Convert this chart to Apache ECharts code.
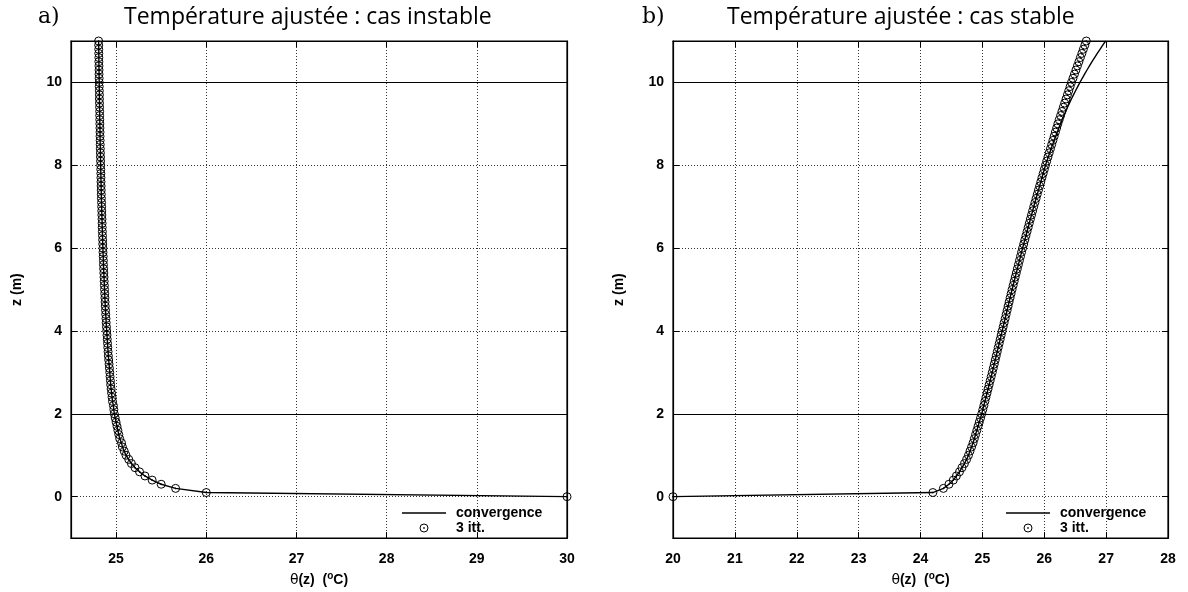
<!DOCTYPE html>
<html>
<head>
<meta charset="utf-8">
<script src="https://cdn.jsdelivr.net/npm/echarts@6/dist/echarts.min.js"></script>
<style>
html,body{margin:0;padding:0;background:#fff;}
#chart{width:1188px;height:592px;}
</style>
</head>
<body>
<div id="chart"></div>
<script>
// ---------- DATA ----------
const zLevels = [
  0,0.1,0.2,0.3,0.4,0.5,0.6,0.7,0.8,0.9,
  1,1.1,1.2,1.3,1.4,1.5,1.6,1.7,1.8,1.9,
  2,2.1,2.2,2.3,2.4,2.5,2.6,2.7,2.8,2.9,
  3,3.1,3.2,3.3,3.4,3.5,3.6,3.7,3.8,3.9,
  4,4.1,4.2,4.3,4.4,4.5,4.6,4.7,4.8,4.9,
  5,5.1,5.2,5.3,5.4,5.5,5.6,5.7,5.8,5.9,
  6,6.1,6.2,6.3,6.4,6.5,6.6,6.7,6.8,6.9,
  7,7.1,7.2,7.3,7.4,7.5,7.6,7.7,7.8,7.9,
  8,8.1,8.2,8.3,8.4,8.5,8.6,8.7,8.8,8.9,
  9,9.1,9.2,9.3,9.4,9.5,9.6,9.7,9.8,9.9,
  10,10.1,10.2,10.3,10.4,10.5,10.6,10.7,10.8,10.9,
  11
];

// a) unstable case (convergence and 3 iterations coincide)
const thetaUnstableConv = [
  30.00,26.00,25.66,25.50,25.40,25.32,25.26,25.21,25.17,25.14,
  25.11,25.09,25.07,25.06,25.04,25.03,25.02,25.01,25.00,24.99,
  24.98,24.975,24.97,24.96,24.955,24.95,24.945,24.94,24.937,24.933,
  24.93,24.926,24.922,24.918,24.914,24.911,24.908,24.905,24.902,24.899,
  24.896,24.893,24.890,24.888,24.885,24.883,24.880,24.878,24.876,24.874,
  24.872,24.870,24.868,24.866,24.864,24.862,24.860,24.859,24.857,24.855,
  24.854,24.852,24.851,24.849,24.848,24.846,24.845,24.844,24.842,24.841,
  24.840,24.839,24.837,24.836,24.835,24.834,24.833,24.832,24.831,24.830,
  24.829,24.828,24.827,24.826,24.825,24.824,24.823,24.822,24.822,24.821,
  24.820,24.819,24.818,24.818,24.817,24.816,24.815,24.815,24.814,24.813,
  24.813,24.812,24.811,24.811,24.810,24.809,24.809,24.808,24.808,24.807,
  24.806
];
const thetaUnstableItt3 = thetaUnstableConv;

// b) stable case
const thetaStableItt3 = [
  20.00,24.20,24.37,24.46,24.53,24.58,24.63,24.67,24.71,24.745,
  24.775,24.80,24.825,24.85,24.87,24.89,24.91,24.93,24.95,24.97,
  24.99,25.007,25.024,25.041,25.058,25.075,25.092,25.109,25.126,25.143,
  25.16,25.176,25.192,25.208,25.224,25.24,25.256,25.272,25.288,25.304,
  25.32,25.336,25.352,25.368,25.384,25.40,25.416,25.432,25.448,25.464,
  25.48,25.497,25.514,25.531,25.548,25.565,25.582,25.599,25.616,25.633,
  25.65,25.668,25.686,25.704,25.722,25.74,25.758,25.776,25.794,25.812,
  25.83,25.849,25.868,25.887,25.906,25.925,25.944,25.963,25.982,26.001,
  26.02,26.04,26.06,26.08,26.10,26.12,26.14,26.16,26.18,26.20,
  26.22,26.242,26.264,26.286,26.308,26.33,26.352,26.374,26.396,26.418,
  26.44,26.464,26.488,26.512,26.536,26.56,26.584,26.608,26.632,26.656,
  26.68
];
const thetaStableConv = [
  20.00,24.20,24.37,24.46,24.53,24.58,24.63,24.67,24.71,24.745,
  24.775,24.80,24.825,24.85,24.87,24.89,24.91,24.93,24.95,24.97,
  24.99,25.007,25.024,25.041,25.058,25.075,25.092,25.109,25.126,25.143,
  25.16,25.176,25.192,25.208,25.224,25.24,25.256,25.272,25.288,25.304,
  25.32,25.336,25.352,25.368,25.384,25.40,25.416,25.432,25.448,25.464,
  25.48,25.497,25.514,25.531,25.548,25.565,25.582,25.599,25.616,25.633,
  25.65,25.668,25.686,25.704,25.722,25.74,25.758,25.776,25.794,25.812,
  25.83,25.849,25.868,25.887,25.906,25.925,25.944,25.963,25.982,26.001,
  26.02,26.042,26.065,26.088,26.112,26.136,26.16,26.185,26.21,26.236,
  26.262,26.289,26.317,26.346,26.376,26.407,26.439,26.472,26.506,26.541,
  26.577,26.614,26.652,26.691,26.731,26.772,26.814,26.857,26.901,26.946,
  26.992
];

const xTicksA = [25,26,27,28,29,30];
const xTicksB = [20,21,22,23,24,25,26,27,28];
const zTicks = [0,2,4,6,8,10];
const refHeights = [2,10];

const panelLabels = ['a)','b)'];
const panelTitles = ['Température ajustée : cas instable','Température ajustée : cas stable'];
const seriesNames = ['convergence','3 itt.'];

// ---------- CHART ----------
const pairs = (xs, zs) => xs.map((x,i) => [x, zs[i]]);
const FS = 14;
const TICK_FONT = {fontFamily:'Liberation Sans', fontWeight:'bold', fontSize:FS, color:'#000'};
const circleDot = 'path://M20,10 A10,10 0 1 1 0,10 A10,10 0 1 1 20,10 Z M11.2,10 A1.2,1.2 0 1 1 8.8,10 A1.2,1.2 0 1 1 11.2,10 Z';
const lineIcon = 'path://M0,0 L44,0 L44,1.5 L0,1.5 Z';

const grids = [
  {left:71, top:41, width:496, height:499},
  {left:673, top:41, width:495, height:499}
];
const xRanges = [[24.5,30],[20,28]];
const xTicks = [xTicksA, xTicksB];

const xAxes = [], yAxes = [];
grids.forEach((g, i) => {
  xAxes.push({
    type:'value', gridIndex:i, min:xRanges[i][0], max:xRanges[i][1], position:'bottom',
    axisLine:{show:true, onZero:false, lineStyle:{color:'#000', width:1.2}},
    axisTick:{show:true, inside:true, length:6, customValues:xTicks[i], lineStyle:{color:'#000', width:1}},
    axisLabel:{show:true, customValues:xTicks[i], margin:14, ...TICK_FONT},
    splitLine:{show:true, lineStyle:{color:'#333', type:[1,2], width:1}},
    name:'{t|θ}{b|(z)  (}{s|o}{b|C)}', nameLocation:'middle', nameGap:30,
    nameTextStyle:{rich:{
      t:{fontFamily:'DejaVu Sans', fontSize:FS, color:'#000'},
      b:{fontFamily:'Liberation Sans', fontWeight:'bold', fontSize:FS, color:'#000'},
      s:{fontFamily:'Liberation Sans', fontWeight:'bold', fontSize:10, color:'#000', padding:[0,0,8,0]}
    }}
  });
  xAxes.push({
    type:'value', gridIndex:i, min:xRanges[i][0], max:xRanges[i][1], position:'top',
    axisLine:{show:true, onZero:false, lineStyle:{color:'#000', width:1.2}},
    axisTick:{show:true, inside:true, length:6, customValues:xTicks[i], lineStyle:{color:'#000'}},
    axisLabel:{show:false}, splitLine:{show:false}
  });
  yAxes.push({
    type:'value', gridIndex:i, min:-1, max:11, position:'left',
    axisLine:{show:true, onZero:false, lineStyle:{color:'#000', width:1.2}},
    axisTick:{show:true, inside:true, length:6, customValues:zTicks, lineStyle:{color:'#000'}},
    axisLabel:{show:true, customValues:zTicks, margin:9, ...TICK_FONT},
    splitLine:{show:true, lineStyle:{color:'#333', type:[1,2], width:1}},
    name:'z (m)', nameLocation:'middle', nameGap:47, nameRotate:90,
    nameTextStyle:{fontFamily:'Liberation Sans', fontWeight:'bold', fontSize:FS, color:'#000'}
  });
  yAxes.push({
    type:'value', gridIndex:i, min:-1, max:11, position:'right',
    axisLine:{show:true, onZero:false, lineStyle:{color:'#000', width:1.2}},
    axisTick:{show:true, inside:true, length:6, customValues:zTicks, lineStyle:{color:'#000'}},
    axisLabel:{show:false}, splitLine:{show:false}
  });
});

const convData = [pairs(thetaUnstableConv, zLevels), pairs(thetaStableConv, zLevels)];
const ittData = [pairs(thetaUnstableItt3, zLevels), pairs(thetaStableItt3, zLevels)];

const series = [];
grids.forEach((g, i) => {
  series.push({
    name: seriesNames[0], type:'line', xAxisIndex:2*i, yAxisIndex:2*i,
    data: convData[i], symbol:'none', showSymbol:false, clip:true,
    lineStyle:{color:'#000', width:1.4}, itemStyle:{color:'#000'},
    animation:false, z:3,
    markLine:{silent:true, symbol:'none', animation:false,
      label:{show:false},
      lineStyle:{color:'#000', type:'solid', width:1.2},
      data: refHeights.map(h => ({yAxis:h}))}
  });
  series.push({
    name: seriesNames[1], type:'scatter', xAxisIndex:2*i, yAxisIndex:2*i,
    data: ittData[i], symbol: circleDot, symbolSize:8,
    itemStyle:{color:'rgba(0,0,0,0)', borderColor:'#000', borderWidth:1, opacity:1},
    animation:false, z:4
  });
});

const titles = [];
[[33,119],[637,722]].forEach((pos, i) => {
  titles.push({text:panelLabels[i], left:pos[0], top:1,
    textStyle:{fontFamily:'DejaVu Serif', fontWeight:'normal', fontSize:22, color:'#000'}});
  titles.push({text:panelTitles[i], left:pos[1], top:1,
    textStyle:{fontFamily:'Open Sans', fontWeight:'normal', fontSize:23, color:'#000'}});
});

const legendPos = [[402,506],[1006,506]];
const legends = legendPos.map((p, i) => ({
  left:p[0], top:p[1], orient:'vertical', itemGap:1, itemWidth:44, itemHeight:8,
  padding:0, selectedMode:false,
  data: [
    {name: seriesNames[0], icon: lineIcon, itemStyle:{color:'#000', borderWidth:0}},
    {name: seriesNames[1], icon: circleDot, itemStyle:{color:'rgba(0,0,0,0)', borderColor:'#000', borderWidth:1}}
  ],
  textStyle:{fontFamily:'Liberation Sans', fontWeight:'bold', fontSize:FS, color:'#000', padding:[0,0,0,5]}
}));

const chart = echarts.init(document.getElementById('chart'), null, {renderer:'canvas'});
chart.setOption({
  backgroundColor:'#fff',
  animation:false,
  title: titles,
  legend: legends,
  grid: grids.map(g => ({...g, show:true, borderColor:'#000', borderWidth:1.2, backgroundColor:'transparent'})),
  xAxis: xAxes,
  yAxis: yAxes,
  series: series
});
</script>
</body>
</html>
